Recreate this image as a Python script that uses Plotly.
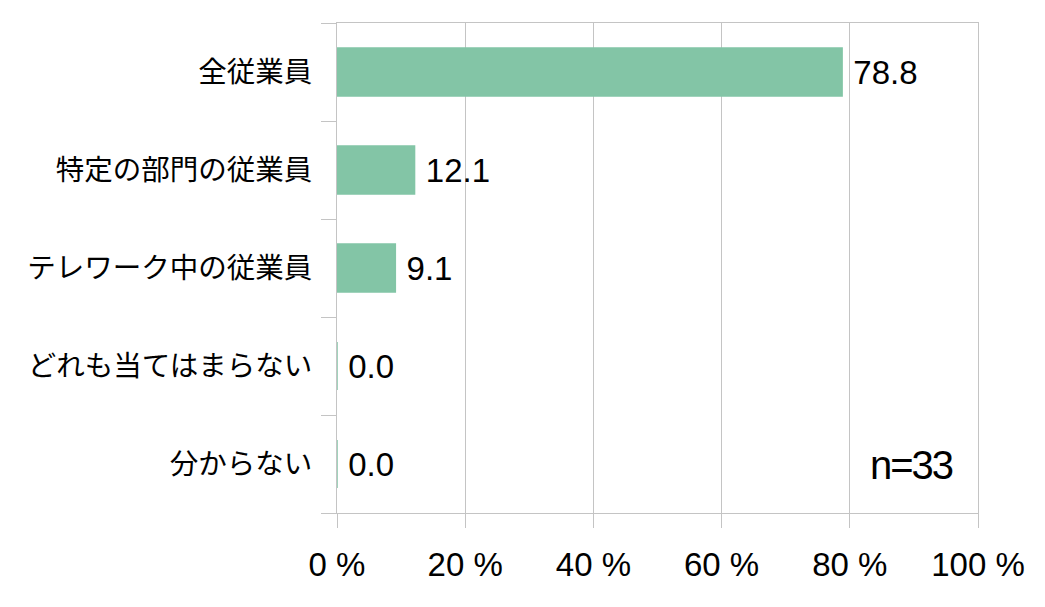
import plotly.graph_objects as go

# 回答カテゴリと割合(%)
categories = ['全従業員', '特定の部門の従業員', 'テレワーク中の従業員', 'どれも当てはまらない', '分からない']
values = [78.8, 12.1, 9.1, 0.0, 0.0]
n_label = 'n=33'

bar_color = '#83C5A6'
grid_color = '#C4C4C4'
num_font = 'Liberation Sans, Arial, sans-serif'

fig = go.Figure()

fig.add_trace(go.Bar(
    x=values,
    y=categories,
    orientation='h',
    marker=dict(color=bar_color, line=dict(width=1.5, color=bar_color)),
    text=['\u2005%.1f' % v for v in values],
    textposition='outside',
    cliponaxis=False,
    textfont=dict(family=num_font, size=33, color='black'),
    hoverinfo='skip',
))

# ページ余白(8px)分ずらしてある
fig.update_layout(
    width=1045,
    height=607,
    margin=dict(l=329, r=75, t=15, b=102),
    paper_bgcolor='white',
    plot_bgcolor='white',
    showlegend=False,
    bargap=0.51,
    xaxis=dict(
        range=[0, 100],
        dtick=20,
        ticksuffix=' %',
        showgrid=True,
        gridcolor=grid_color,
        gridwidth=1,
        zeroline=False,
        showline=True,
        linecolor=grid_color,
        mirror=True,
        ticks='outside',
        ticklen=14,
        tickcolor=grid_color,
        tickfont=dict(family=num_font, size=33, color='black'),
        ticklabelstandoff=8,
        fixedrange=True,
    ),
    yaxis=dict(
        categoryorder='array',
        categoryarray=categories[::-1],
        showgrid=False,
        showline=True,
        linecolor=grid_color,
        mirror=True,
        ticks='outside',
        tickson='boundaries',
        ticklen=15,
        tickcolor=grid_color,
        tickfont=dict(family='Noto Sans CJK JP', size=28.5, color='black'),
        ticklabelstandoff=18,
        fixedrange=True,
    ),
)

# n数の注記
fig.add_annotation(
    x=0.964, y=0.098, xref='paper', yref='paper',
    text='<span style="letter-spacing:-2px">%s</span>' % n_label,
    showarrow=False,
    xanchor='right', yanchor='middle',
    font=dict(family='Liberation Sans Narrow, Liberation Sans, sans-serif',
              size=40, color='black'),
)

fig.write_html('out.html')
